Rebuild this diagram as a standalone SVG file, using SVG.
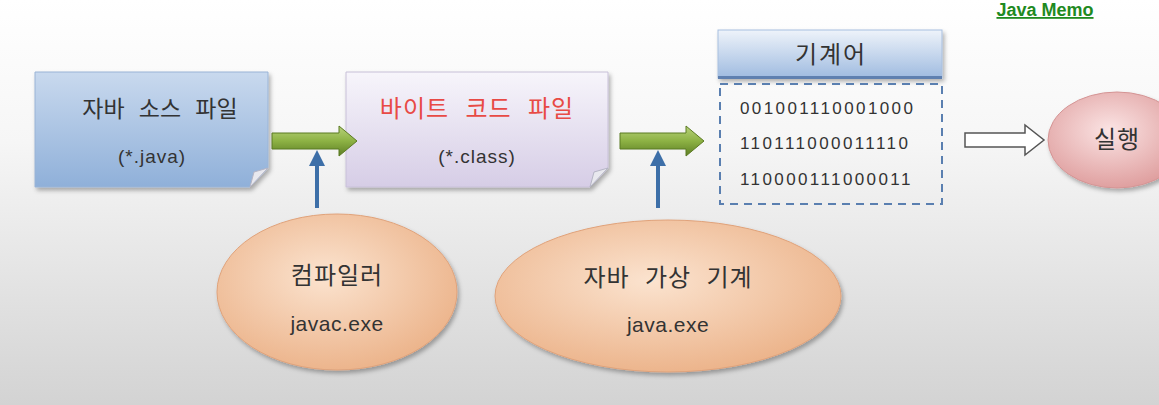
<svg xmlns="http://www.w3.org/2000/svg" width="1159" height="405" viewBox="0 0 1159 405">
<defs>
<linearGradient id="bg" x1="0" y1="0" x2="0" y2="1">
<stop offset="0" stop-color="#ffffff"/><stop offset="0.35" stop-color="#f6f6f6"/><stop offset="1" stop-color="#d3d3d3"/>
</linearGradient>
<linearGradient id="blueBox" x1="0" y1="0" x2="0" y2="1">
<stop offset="0" stop-color="#c9d9ee"/><stop offset="1" stop-color="#8fb0d9"/>
</linearGradient>
<linearGradient id="purpleBox" x1="0" y1="0" x2="0" y2="1">
<stop offset="0" stop-color="#f7f5fb"/><stop offset="1" stop-color="#d6cde6"/>
</linearGradient>
<linearGradient id="header" x1="0" y1="0" x2="0" y2="1">
<stop offset="0" stop-color="#eef3fa"/><stop offset="1" stop-color="#9fbbe0"/>
</linearGradient>
<linearGradient id="green" x1="0" y1="0" x2="0" y2="1">
<stop offset="0" stop-color="#b8d27a"/><stop offset="0.5" stop-color="#8db244"/><stop offset="1" stop-color="#5d7e24"/>
</linearGradient>
<radialGradient id="orange" cx="0.45" cy="0.4" r="0.65">
<stop offset="0" stop-color="#fbe3cf"/><stop offset="1" stop-color="#ebb187"/>
</radialGradient>
<radialGradient id="pink" cx="0.45" cy="0.4" r="0.65">
<stop offset="0" stop-color="#fbe4e4"/><stop offset="1" stop-color="#dd9a9a"/>
</radialGradient>
<filter id="sh" x="-10%" y="-10%" width="125%" height="130%">
<feDropShadow dx="2" dy="3" stdDeviation="2" flood-color="#000" flood-opacity="0.3"/>
</filter>
<marker id="blueHead" viewBox="0 0 10 10" refX="5" refY="5" markerWidth="4" markerHeight="4" orient="auto">
<path d="M0,0 L10,5 L0,10 z" fill="#3d6fa8"/>
</marker>
</defs>
<style>
.ko{font-family:"Noto Sans CJK KR","Liberation Sans",sans-serif;fill:#333;text-anchor:middle}
.lat{font-family:"Liberation Sans","Noto Sans CJK KR",sans-serif;fill:#333;text-anchor:middle}
.bin{font-family:"Liberation Sans",sans-serif;fill:#333;font-size:17px;letter-spacing:2.4px}
.fold{fill:#e8e8ee;stroke:#b5b5c5;stroke-width:1}
</style>
<rect width="1159" height="405" fill="url(#bg)"/>
<text x="1045" y="16" font-family="Liberation Sans,sans-serif" font-weight="bold" font-size="18" fill="#1f8a1f" text-decoration="underline" text-anchor="middle">Java Memo</text>

<g id="source-file">
<path d="M35,72 H268 V168 L250,187 H35 Z" fill="url(#blueBox)" stroke="#9ab4d6" filter="url(#sh)"/>
<path d="M250,187 L254,172 L268,168 Z" class="fold"/>
<text x="160" y="117" class="ko" font-size="23" word-spacing="9">자바 소스 파일</text>
<text x="152" y="163" class="lat" font-size="19" letter-spacing="1">(*.java)</text>
</g>

<g id="bytecode-file">
<path d="M346,72 H608 V168 L590,187 H346 Z" fill="url(#purpleBox)" stroke="#c8c0d8" filter="url(#sh)"/>
<path d="M590,187 L594,172 L608,168 Z" class="fold"/>
<text x="477" y="117" class="ko" font-size="24" word-spacing="10" letter-spacing="1" style="fill:#e84a45">바이트 코드 파일</text>
<text x="477" y="163" class="lat" font-size="19" letter-spacing="1">(*.class)</text>
</g>

<g id="machine-code">
<rect x="718" y="30" width="224" height="48" fill="url(#header)" stroke="#a8bfdf" filter="url(#sh)"/>
<rect x="718" y="76" width="224" height="3" fill="#5f80b0"/>
<text x="831" y="63" class="ko" font-size="24" letter-spacing="2">기계어</text>
<rect x="720" y="84" width="222" height="120" fill="none" stroke="#5a7fb0" stroke-width="2" stroke-dasharray="8,6"/>
<text x="740" y="114" class="bin">001001110001000</text>
<text x="740" y="149" class="bin">110111000011110</text>
<text x="740" y="185" class="bin">110000111000011</text>
</g>

<g id="run">
<ellipse cx="1117" cy="140" rx="69" ry="48" fill="url(#pink)" stroke="#d49494" filter="url(#sh)"/>
<text x="1117" y="148" class="ko" font-size="24" letter-spacing="1">실행</text>
</g>

<g id="compiler">
<ellipse cx="337" cy="292" rx="120" ry="78" fill="url(#orange)" stroke="#e0a27a" filter="url(#sh)"/>
<text x="337" y="284" class="ko" font-size="24" letter-spacing="1">컴파일러</text>
<text x="337" y="331" class="lat" font-size="21" letter-spacing="0.5">javac.exe</text>
</g>

<g id="jvm">
<ellipse cx="668" cy="296" rx="173" ry="76" fill="url(#orange)" stroke="#e0a27a" filter="url(#sh)"/>
<text x="668" y="286" class="ko" font-size="24" word-spacing="9" letter-spacing="1">자바 가상 기계</text>
<text x="668" y="332" class="lat" font-size="21" letter-spacing="0.5">java.exe</text>
</g>

<g id="connectors">
<path d="M272,133 H339 V126 L357,141 L339,156 V149 H272 Z" fill="url(#green)" stroke="#5b7a22" stroke-width="1"/>
<path d="M620,133 H686 V126 L704,141 L686,156 V149 H620 Z" fill="url(#green)" stroke="#5b7a22" stroke-width="1"/>
<line x1="317" y1="208" x2="317" y2="158" stroke="#3d6fa8" stroke-width="4" marker-end="url(#blueHead)"/>
<line x1="658" y1="208" x2="658" y2="158" stroke="#3d6fa8" stroke-width="4" marker-end="url(#blueHead)"/>
<path d="M965,133 H1025 V125 L1044,140 L1025,155 V147 H965 Z" fill="#ffffff" stroke="#555" stroke-width="1.5"/>
</g>
</svg>
